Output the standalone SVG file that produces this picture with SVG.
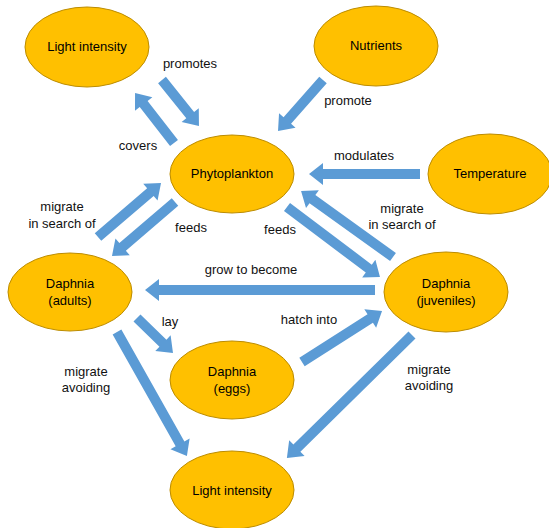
<svg xmlns="http://www.w3.org/2000/svg" width="549" height="528" viewBox="0 0 549 528">
<style>
.node ellipse{fill:#FFC000;stroke:#BC8C00;stroke-width:1}
.node text{font-family:"Liberation Sans",Arial,sans-serif;font-size:13px;fill:#000;text-anchor:middle}
.lbl{font-family:"Liberation Sans",Arial,sans-serif;font-size:13px;fill:#111;text-anchor:middle}
.arr{fill:#5B9BD5;stroke:none}
</style>
<rect width="549" height="528" fill="#fff"/>
<g id="connectors">
<polygon class="arr" transform="translate(162,80) rotate(51.2)" points="0,-5 45,-5 45,-11 59,0 45,11 45,5 0,5"/>
<polygon class="arr" transform="translate(174,143) rotate(-127.9)" points="0,-5 49.4,-5 49.4,-11 63.4,0 49.4,11 49.4,5 0,5"/>
<polygon class="arr" transform="translate(323,80) rotate(131.4)" points="0,-5 54,-5 54,-11 68,0 54,11 54,5 0,5"/>
<polygon class="arr" transform="translate(420,174) rotate(180)" points="0,-5 97,-5 97,-11 111,0 97,11 97,5 0,5"/>
<polygon class="arr" transform="translate(393,257) rotate(-144.3)" points="0,-5 99.2,-5 99.2,-11 113.2,0 99.2,11 99.2,5 0,5"/>
<polygon class="arr" transform="translate(287,207) rotate(37)" points="0,-5 102.4,-5 102.4,-11 116.4,0 102.4,11 102.4,5 0,5"/>
<polygon class="arr" transform="translate(375,290) rotate(180)" points="0,-5 216,-5 216,-11 230,0 216,11 216,5 0,5"/>
<polygon class="arr" transform="translate(137,318) rotate(44.2)" points="0,-5 36.2,-5 36.2,-11 50.2,0 36.2,11 36.2,5 0,5"/>
<polygon class="arr" transform="translate(302,362) rotate(-32.5)" points="0,-5 80.9,-5 80.9,-11 94.9,0 80.9,11 80.9,5 0,5"/>
<polygon class="arr" transform="translate(117,332) rotate(60.6)" points="0,-5 128.4,-5 128.4,-11 142.4,0 128.4,11 128.4,5 0,5"/>
<polygon class="arr" transform="translate(412,335) rotate(135.5)" points="0,-5 161.4,-5 161.4,-11 175.4,0 161.4,11 161.4,5 0,5"/>
<polygon class="arr" transform="translate(98,237) rotate(-40.6)" points="0,-5 69,-5 69,-11 83,0 69,11 69,5 0,5"/>
<polygon class="arr" transform="translate(175,202) rotate(139.4)" points="0,-5 69,-5 69,-11 83,0 69,11 69,5 0,5"/>
<text class="lbl" x="190" y="68">promotes</text>
<text class="lbl" x="138" y="150">covers</text>
<text class="lbl" x="348" y="105">promote</text>
<text class="lbl" x="364" y="160">modulates</text>
<text class="lbl" x="402" y="213">migrate</text>
<text class="lbl" x="402" y="229">in search of</text>
<text class="lbl" x="62" y="211">migrate</text>
<text class="lbl" x="62" y="228">in search of</text>
<text class="lbl" x="191" y="232">feeds</text>
<text class="lbl" x="280" y="234">feeds</text>
<text class="lbl" x="251" y="274">grow to become</text>
<text class="lbl" x="170" y="326">lay</text>
<text class="lbl" x="309" y="324">hatch into</text>
<text class="lbl" x="86" y="376">migrate</text>
<text class="lbl" x="86" y="392">avoiding</text>
<text class="lbl" x="429" y="374">migrate</text>
<text class="lbl" x="429" y="390">avoiding</text>
</g>
<g id="light-top" class="node"><ellipse cx="87" cy="47" rx="62" ry="40"/><text x="87" y="51">Light intensity</text></g>
<g id="nutrients" class="node"><ellipse cx="376" cy="46" rx="62" ry="40"/><text x="376" y="50">Nutrients</text></g>
<g id="phytoplankton" class="node"><ellipse cx="232" cy="174" rx="62" ry="39"/><text x="232" y="178">Phytoplankton</text></g>
<g id="temperature" class="node"><ellipse cx="490" cy="174" rx="62" ry="40"/><text x="490" y="178">Temperature</text></g>
<g id="adults" class="node"><ellipse cx="70" cy="292" rx="62" ry="39"/><text x="70" y="288">Daphnia</text><text x="70" y="305">(adults)</text></g>
<g id="juveniles" class="node"><ellipse cx="446" cy="292" rx="62" ry="40"/><text x="446" y="288">Daphnia</text><text x="446" y="305">(juveniles)</text></g>
<g id="eggs" class="node"><ellipse cx="232" cy="380" rx="62" ry="39"/><text x="232" y="376">Daphnia</text><text x="232" y="393">(eggs)</text></g>
<g id="light-bottom" class="node"><ellipse cx="232" cy="490" rx="62" ry="39"/><text x="232" y="495">Light intensity</text></g>
</svg>
